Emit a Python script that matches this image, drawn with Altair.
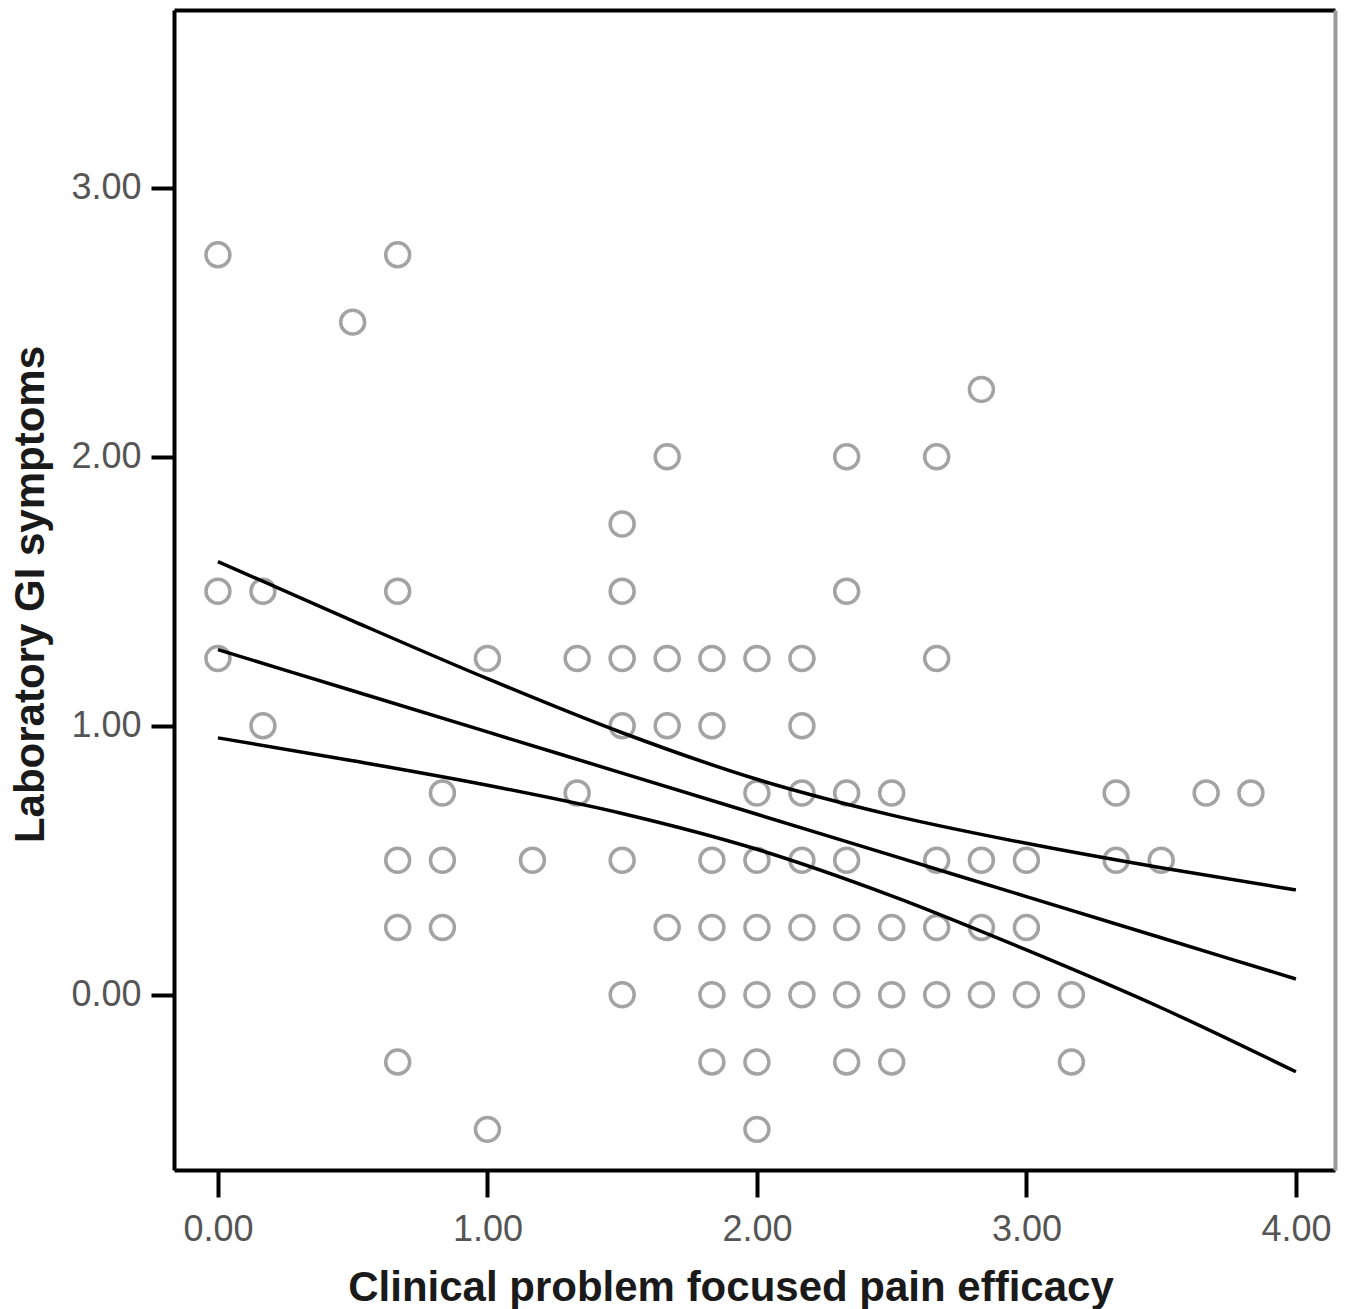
import altair as alt
import pandas as pd

# ---- scatter data: for each y level, the x positions of the circles ----
y_levels = [2.75, 2.5, 2.25, 2.0, 1.75, 1.5, 1.25, 1.0, 0.75, 0.5, 0.25, 0.0, -0.25, -0.5]
x_at_level = [
    [0.0, 0.667],
    [0.5],
    [2.833],
    [1.667, 2.333, 2.667],
    [1.5],
    [0.0, 0.167, 0.667, 1.5, 2.333],
    [0.0, 1.0, 1.333, 1.5, 1.667, 1.833, 2.0, 2.167, 2.667],
    [0.167, 1.5, 1.667, 1.833, 2.167],
    [0.833, 1.333, 2.0, 2.167, 2.333, 2.5, 3.333, 3.667, 3.833],
    [0.667, 0.833, 1.167, 1.5, 1.833, 2.0, 2.167, 2.333, 2.667, 2.833, 3.0, 3.333, 3.5],
    [0.667, 0.833, 1.667, 1.833, 2.0, 2.167, 2.333, 2.5, 2.667, 2.833, 3.0],
    [1.5, 1.833, 2.0, 2.167, 2.333, 2.5, 2.667, 2.833, 3.0, 3.167],
    [0.667, 1.833, 2.0, 2.333, 2.5, 3.167],
    [1.0, 2.0],
]

# ---- fit line and confidence band ----
fit_x = [0.0, 0.5, 1.0, 1.5, 2.0, 2.5, 3.0, 3.5, 4.0]
fit_mid = [1.283, 1.130, 0.977, 0.824, 0.671, 0.518, 0.365, 0.212, 0.059]
fit_upper = [1.610, 1.390, 1.175, 0.974, 0.801, 0.668, 0.563, 0.472, 0.390]
fit_lower = [0.955, 0.870, 0.779, 0.674, 0.541, 0.368, 0.167, -0.048, -0.286]

x_ticks = [0, 1, 2, 3, 4]
y_ticks = [0, 1, 2, 3]
x_title = "Clinical problem focused pain efficacy"
y_title = "Laboratory GI symptoms"

pts = pd.DataFrame(
    [{"x": x, "y": y} for y, xs in zip(y_levels, x_at_level) for x in xs]
)
lines = pd.DataFrame(
    [{"x": x, "y": v, "s": "upper"} for x, v in zip(fit_x, fit_upper)]
    + [{"x": x, "y": v, "s": "mid"} for x, v in zip(fit_x, fit_mid)]
    + [{"x": x, "y": v, "s": "lower"} for x, v in zip(fit_x, fit_lower)]
)

FONT = "Liberation Sans"
x_scale = alt.Scale(domain=[-0.163, 4.145], nice=False, zero=False)
y_scale = alt.Scale(domain=[-0.651, 3.66], nice=False, zero=False)

points = alt.Chart(pts).mark_point(
    shape="circle", filled=False, size=575, strokeWidth=3.5, color="#a3a3a3", opacity=1
).encode(
    x=alt.X(
        "x:Q",
        scale=x_scale,
        axis=alt.Axis(
            orient="bottom", values=x_ticks, format=".2f", grid=False,
            tickSize=27, tickWidth=4, tickColor="black",
            domainColor="black", domainWidth=4,
            labelFont=FONT, labelFontSize=36, labelColor="#555555", labelPadding=15,
            title=x_title, titleFont=FONT, titleFontSize=42, titleFontWeight="bold",
            titleColor="#1a1a1a", titleX=556.5, titleY=130,
            titleBaseline="alphabetic", titleAlign="center",
        ),
    ),
    y=alt.Y(
        "y:Q",
        scale=y_scale,
        axis=alt.Axis(
            orient="left", values=y_ticks, format=".2f", grid=False,
            tickSize=23, tickWidth=4, tickColor="black",
            domainColor="black", domainWidth=4,
            labelFont=FONT, labelFontSize=36, labelColor="#555555", labelPadding=10,
            title=y_title, titleFont=FONT, titleFontSize=42, titleFontWeight="bold",
            titleColor="#1a1a1a", titleX=-131, titleY=584, titleAngle=270,
            titleBaseline="alphabetic", titleAlign="center",
        ),
    ),
)

fit = alt.Chart(lines).mark_line(
    color="black", strokeWidth=3.5, interpolate="monotone"
).encode(
    x=alt.X(
        "x:Q",
        scale=x_scale,
        axis=alt.Axis(orient="top", labels=False, ticks=False, title=None, grid=False,
                      domainColor="black", domainWidth=4),
    ),
    y=alt.Y(
        "y:Q",
        scale=y_scale,
        axis=alt.Axis(orient="right", labels=False, ticks=False, title=None, grid=False,
                      domainColor="#9a9a9a", domainWidth=4),
    ),
    detail="s:N",
)

chart = alt.layer(points, fit).properties(
    width=1161,
    height=1160,
    autosize=alt.AutoSizeParams(type="none"),
    padding={"left": 166, "top": 2, "right": 6, "bottom": 140},
    background="white",
).configure_view(stroke=None)

chart.save("out.html", embed_options={"renderer": "svg", "actions": False})
